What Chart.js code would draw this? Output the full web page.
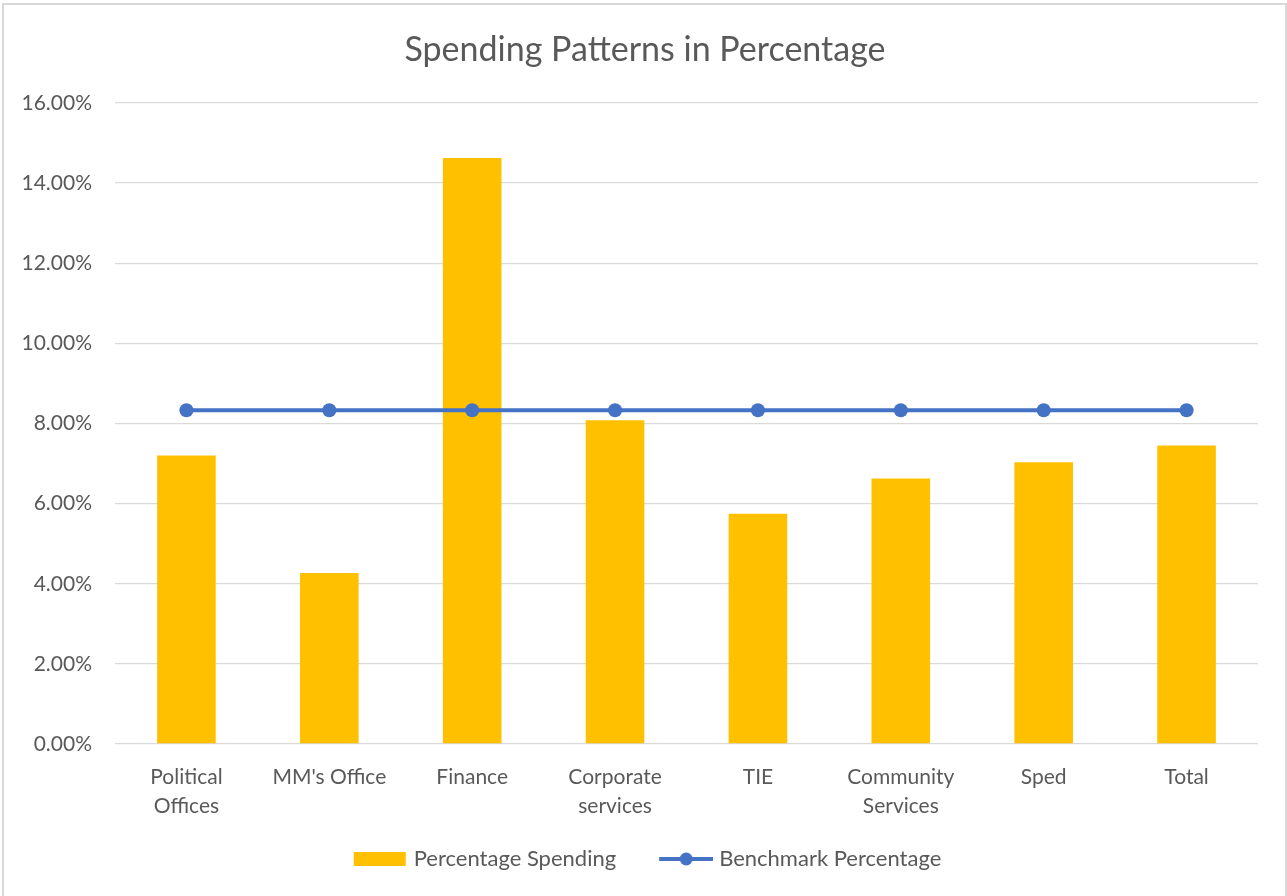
<!DOCTYPE html>
<html>
<head>
<meta charset="utf-8">
<script src="https://cdn.jsdelivr.net/npm/chart.js@4"></script>
<style>
    body { margin: 0; background: #fff; }
    #wrap { position: relative; width: 1287px; height: 896px; }
    #frame { position: absolute; left: 2px; top: 3px; right: 0; bottom: -2px; border: 2px solid #d9d9d9; border-bottom: none; pointer-events: none; }
</style>
</head>
<body>
<div id="wrap">
    <canvas id="spendChart"></canvas>
    <div id="frame"></div>
</div>
<script>
const categories = [
    ['Political', 'Offices'],
    "MM's Office",
    'Finance',
    ['Corporate', 'services'],
    'TIE',
    ['Community', 'Services'],
    'Sped',
    'Total'
];
const spending = [7.20, 4.27, 14.63, 8.08, 5.75, 6.63, 7.03, 7.45];
const benchmark = [8.33, 8.33, 8.33, 8.33, 8.33, 8.33, 8.33, 8.33];
const yTicks = [0, 2, 4, 6, 8, 10, 12, 14, 16];

const textColor = '#595959';
const fontFam = 'Lato, "Open Sans", sans-serif';

// legend swatches: transparent lead-in on the left, the mark on the right
function swatchBox() {
    const c = document.createElement('canvas');
    c.width = 92; c.height = 14;
    const g = c.getContext('2d');
    g.fillStyle = '#FFC000';
    g.fillRect(38, 0, 52, 14);
    return c;
}
function swatchLine() {
    const c = document.createElement('canvas');
    c.width = 92; c.height = 14;
    const g = c.getContext('2d');
    g.strokeStyle = '#4472C4';
    g.lineWidth = 4;
    g.beginPath();
    g.moveTo(38, 7);
    g.lineTo(92, 7);
    g.stroke();
    g.fillStyle = '#4472C4';
    g.beginPath();
    g.arc(65, 7, 6.5, 0, Math.PI * 2);
    g.fill();
    return c;
}

// title and legend sit a little right of centre in the original
const blockShift = {
    id: 'blockShift',
    afterLayout(chart) {
        chart.legend.left += 2;
        chart.legend.right += 2;
        chart.titleBlock.left += 16;
        chart.titleBlock.right += 16;
    }
};

new Chart(document.getElementById('spendChart'), {
    type: 'bar',
    data: {
        labels: categories,
        datasets: [{
            type: 'bar',
            label: 'Percentage Spending',
            data: spending,
            backgroundColor: '#FFC000',
            categoryPercentage: 1,
            barPercentage: 0.41,
            order: 1
        }, {
            type: 'line',
            label: 'Benchmark Percentage',
            data: benchmark,
            borderColor: '#4472C4',
            backgroundColor: '#4472C4',
            borderWidth: 4,
            pointRadius: 7,
            pointBorderWidth: 0,
            pointBackgroundColor: '#4472C4',
            pointStyle: 'circle',
            order: 0
        }]
    },
    plugins: [blockShift],
    options: {
        responsive: true,
        maintainAspectRatio: false,
        devicePixelRatio: 1,
        animation: false,
        layout: {
            padding: { left: 0, right: 29, top: 0, bottom: 16 }
        },
        plugins: {
            title: {
                display: true,
                text: 'Spending Patterns in Percentage',
                color: textColor,
                font: { family: fontFam, size: 34, weight: 'normal', lineHeight: 1.2 },
                padding: { top: 29.6, bottom: 32.6 }
            },
            legend: {
                position: 'bottom',
                labels: {
                    color: textColor,
                    font: { family: fontFam, size: 22 },
                    usePointStyle: true,
                    pointStyleWidth: 82,
                    boxHeight: 14,
                    padding: 10,
                    sort: (a, b) => a.datasetIndex - b.datasetIndex,
                    generateLabels: (chart) => {
                        const items = Chart.defaults.plugins.legend.labels.generateLabels(chart);
                        items.forEach(it => {
                            it.pointStyle = it.datasetIndex === 0 ? swatchBox() : swatchLine();
                        });
                        return items;
                    }
                }
            },
            tooltip: { enabled: false }
        },
        scales: {
            x: {
                grid: { display: false, drawTicks: false },
                border: { display: false },
                ticks: {
                    color: textColor,
                    font: { family: fontFam, size: 21, lineHeight: 1.38 },
                    padding: 19,
                    maxRotation: 0,
                    autoSkip: false
                },
                afterFit: (s) => { s.height = 94; }
            },
            y: {
                min: 0,
                max: 16,
                grid: { color: '#d9d9d9', lineWidth: 1.3, drawTicks: false },
                border: { display: false },
                afterBuildTicks: (s) => { s.ticks = yTicks.map(v => ({ value: v })); },
                ticks: {
                    color: textColor,
                    font: { family: fontFam, size: 21 },
                    padding: 23,
                    callback: (v) => v.toFixed(2) + '%'
                },
                afterFit: (s) => { s.width = 115; }
            }
        }
    }
});
</script>
</body>
</html>
